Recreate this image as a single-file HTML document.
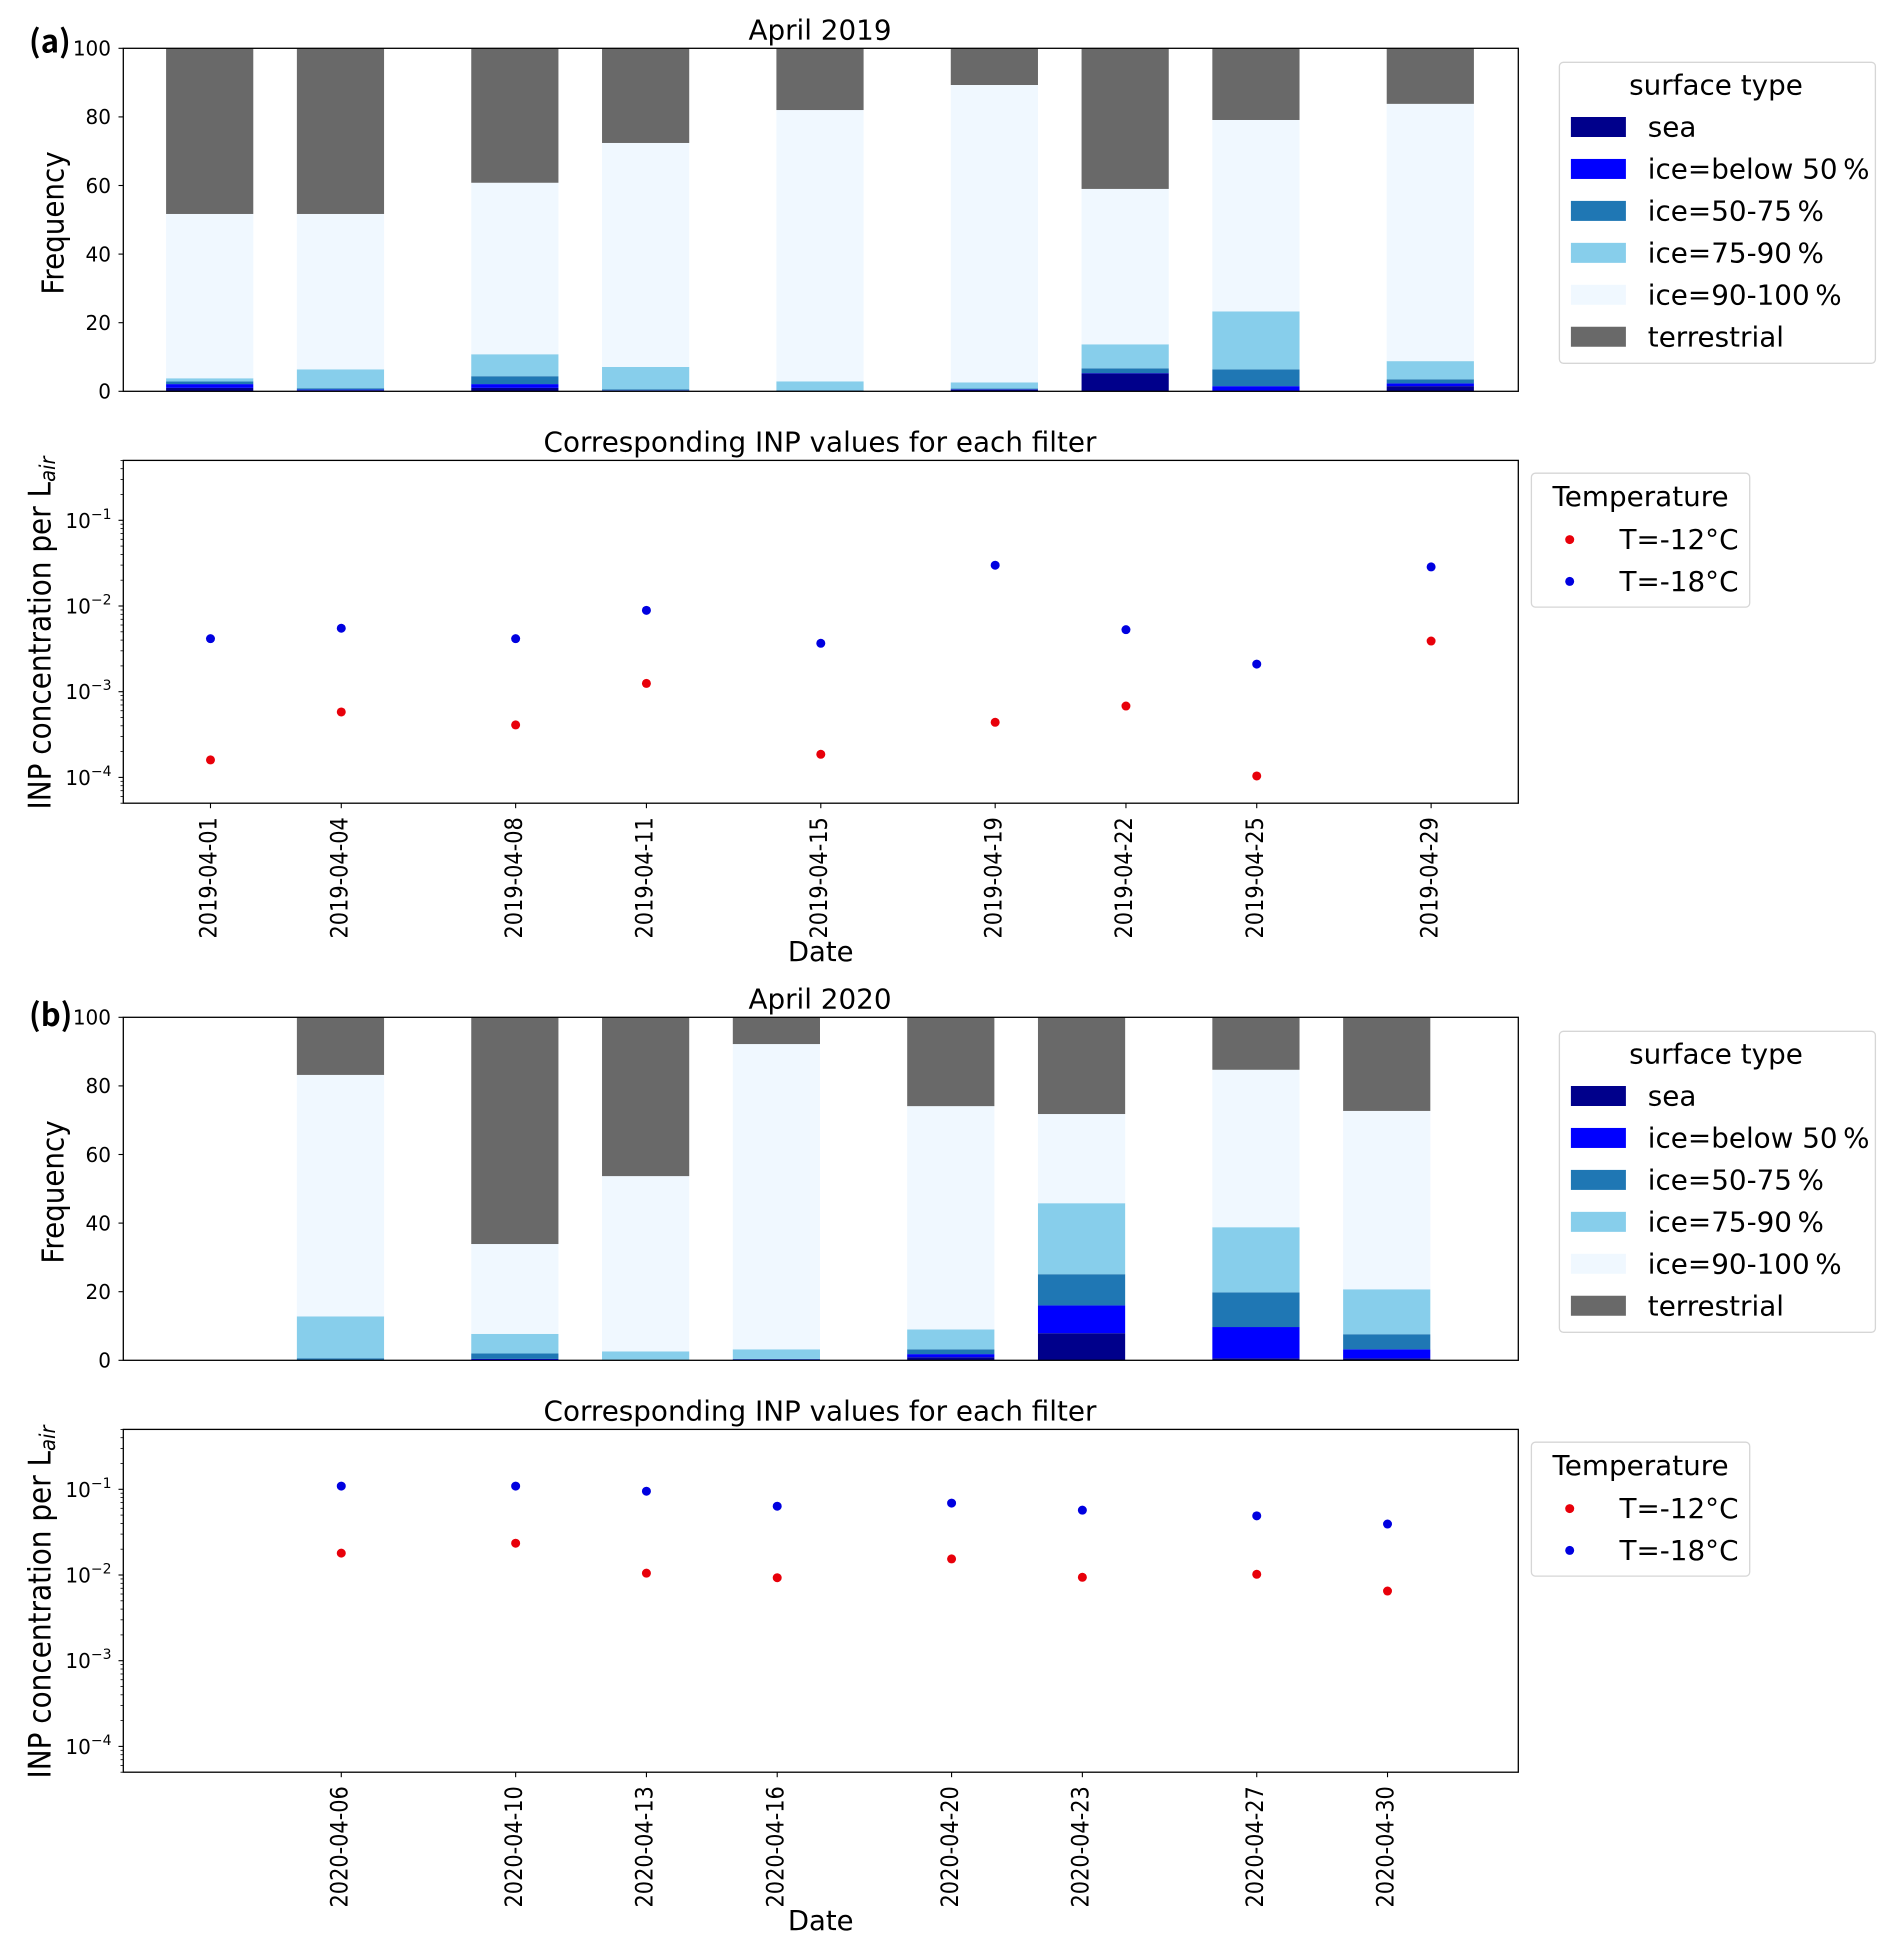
<!DOCTYPE html>
<html lang="en">
<head>
<meta charset="utf-8">
<title>Surface type frequency and INP concentration, April 2019 and April 2020</title>
<style>
html,body{margin:0;padding:0;background:#fff;}
svg{display:block;}
text{font-family:"DejaVu Sans",sans-serif;fill:#000;}
</style>
</head>
<body>
<svg id="chart" xmlns="http://www.w3.org/2000/svg" width="1896" height="1952" viewBox="0 0 1896 1952"></svg>
<script>
// ---- April 2019 data ----
const dates2019 = ["2019-04-01","2019-04-04","2019-04-08","2019-04-11","2019-04-15","2019-04-19","2019-04-22","2019-04-25","2019-04-29"];
const sea2019 = [1.0,0.3,1.0,0.2,0,0.5,5.2,0.1,1.5];
const iceBelow50_2019 = [1.1,0.2,1.1,0.1,0,0.1,0.1,1.4,0.8];
const ice50to75_2019 = [0.8,0.4,2.3,0.3,0.3,0.2,1.4,4.9,1.2];
const ice75to90_2019 = [0.9,5.5,6.4,6.5,2.6,1.8,7.0,16.9,5.3];
const ice90to100_2019 = [47.9,45.3,50.0,65.3,79.1,86.7,45.3,55.8,75.0];
const terrestrial2019 = [48.3,48.3,39.2,27.6,18.0,10.7,41.0,20.9,16.2];
const inpMinus12_2019 = [1.6e-4,5.8e-4,4.1e-4,1.25e-3,1.86e-4,4.4e-4,6.8e-4,1.04e-4,3.9e-3];
const inpMinus18_2019 = [4.16e-3,5.5e-3,4.16e-3,8.9e-3,3.67e-3,0.0299,5.3e-3,2.1e-3,0.0286];

// ---- April 2020 data ----
const dates2020 = ["2020-04-06","2020-04-10","2020-04-13","2020-04-16","2020-04-20","2020-04-23","2020-04-27","2020-04-30"];
const sea2020 = [0,0.2,0,0.1,0.9,7.9,0.6,0.6];
const iceBelow50_2020 = [0.1,0.2,0,0.2,0.9,8.1,9.1,2.6];
const ice50to75_2020 = [0.5,1.6,0.1,0.1,1.4,9.1,10.1,4.4];
const ice75to90_2020 = [12.2,5.7,2.5,2.8,5.8,20.7,19.0,13.1];
const ice90to100_2020 = [70.4,26.2,51.1,89.0,65.1,26.0,45.9,52.0];
const terrestrial2020 = [16.8,66.1,46.3,7.8,25.9,28.2,15.3,27.3];
const inpMinus12_2020 = [0.018,0.0235,0.0105,0.0093,0.0154,0.0094,0.0102,0.0065];
const inpMinus18_2020 = [0.109,0.109,0.095,0.0635,0.069,0.0571,0.049,0.0393];

// ---- axis ticks and legend labels ----
const frequencyTicks = [0,20,40,60,80,100];
const logTickExponents = [-4,-3,-2,-1];
const minorMultipliers = [2,3,4,5,6,7,8,9];
const surfaceLabels = ["sea","ice=below 50\u2009%","ice=50-75\u2009%","ice=75-90\u2009%","ice=90-100\u2009%","terrestrial"];
const surfaceColors = ["#00008b","#0000ff","#1f77b4","#87ceeb","#f0f8ff","#696969"];
const temperatureLabels = ["T=-12\u00b0C","T=-18\u00b0C"];
const temperatureColors = ["#e8000a","#0000e0"];

// ---- layout (not data) ----
const NS = "http://www.w3.org/2000/svg";
const root = document.getElementById("chart");
const AX_L = 123.3, AX_R = 1518.3;
const BAR_T = 48.3, BAR_B = 391.3;
const LOG_T = 460.4, LOG_B = 803.2;
const LOG_MIN = 5e-5, LOG_MAX = 0.5;
const BAR_WIDTH_DAYS = 2;
const BAR_PIXEL_SHIFT = -0.8;

function el(tag, attrs, parent) {
  const e = document.createElementNS(NS, tag);
  for (const k in attrs) e.setAttribute(k, attrs[k]);
  (parent || root).appendChild(e);
  return e;
}
function dayOf(s) { return parseInt(s.slice(8), 10); }

function drawFigure(opts) {
  const dy = opts.dy;
  const fig = el("g", {transform: "translate(0," + dy + ")"});
  
  

  const xScale = d => AX_L + (d - opts.xMin) / (opts.xMax - opts.xMin) * (AX_R - AX_L);
  const yFreq = v => BAR_B - v / 100 * (BAR_B - BAR_T);
  const yLog = v => LOG_B - (Math.log10(v) - Math.log10(LOG_MIN)) / (Math.log10(LOG_MAX) - Math.log10(LOG_MIN)) * (LOG_B - LOG_T);

  // stacked bars
  const barGroup = el("g", {}, fig);
  
  
  opts.dates.forEach((date, i) => {
    let base = 0;
    opts.series.forEach((values, s) => {
      const top = base + values[i];
      if (values[i] > 0) {
        const r = el("rect", {
          x: xScale(dayOf(date) - BAR_WIDTH_DAYS / 2) + BAR_PIXEL_SHIFT,
          y: yFreq(top),
          width: xScale(dayOf(date) + BAR_WIDTH_DAYS / 2) - xScale(dayOf(date) - BAR_WIDTH_DAYS / 2),
          height: yFreq(base) - yFreq(top),
          fill: surfaceColors[s]
        }, barGroup);
        
        
      }
      base = top;
    });
  });

  // frequency axes frame
  const frame1 = el("rect", {x: AX_L, y: BAR_T, width: AX_R - AX_L, height: BAR_B - BAR_T, fill: "none", stroke: "#000", "stroke-width": 1.3}, fig);
  
  

  frequencyTicks.forEach(v => {
    const t = el("line", {x1: AX_L - 4.8, x2: AX_L, y1: yFreq(v), y2: yFreq(v), stroke: "#000", "stroke-width": 1.1}, fig);
    
    
    const l = el("text", {x: 111, y: yFreq(v) + 7.3, "text-anchor": "end", "font-size": 20}, fig);
    l.textContent = v;
    
    
  });

  const title = el("text", {x: 820, y: 39.3, "text-anchor": "middle", "font-size": 27.8}, fig);
  title.textContent = opts.title;
  
  

  const panelTag = el("text", {x: 29, y: opts.tagY - dy, "font-size": 31, "font-weight": 700, style: 'font-family:"Noto Sans CJK JP",sans-serif'}, fig);
  panelTag.textContent = opts.tag;
  
  

  const freqLabel = el("text", {transform: "translate(63.7,223) rotate(-90) scale(0.925,1)", "text-anchor": "middle", "font-size": 30}, fig);
  freqLabel.textContent = "Frequency";
  
  

  // surface type legend
  const leg1 = el("g", {}, fig);
  
  
  el("rect", {x: 1559.4, y: 62.3, width: 316, height: 301, rx: 4, fill: "#fff", stroke: "#d6d6d6", "stroke-width": 1.3}, leg1);
  const leg1Title = el("text", {x: 1716, y: 94.5, "text-anchor": "middle", "font-size": 27.8}, leg1);
  leg1Title.textContent = "surface type";
  
  
  surfaceLabels.forEach((label, i) => {
    const cy = 127 + i * 41.95;
    const sw = el("rect", {x: 1570.9, y: cy - 10, width: 55, height: 20, fill: surfaceColors[i]}, leg1);
    
    
    const tx = el("text", {x: 1647.8, y: cy + 9.5, "font-size": 27.8}, leg1);
    tx.textContent = label;
    
    
  });

  // INP axes
  const frame2 = el("rect", {x: AX_L, y: LOG_T, width: AX_R - AX_L, height: LOG_B - LOG_T, fill: "none", stroke: "#000", "stroke-width": 1.3}, fig);
  
  

  logTickExponents.forEach(e => {
    const v = Math.pow(10, e);
    const t = el("line", {x1: AX_L - 4.8, x2: AX_L, y1: yLog(v), y2: yLog(v), stroke: "#000", "stroke-width": 1.1}, fig);
    
    
    const l = el("text", {x: 111.5, y: yLog(v) + 7.5, "text-anchor": "end", "font-size": 20}, fig);
    
    
    const base = el("tspan", {}, l);
    base.textContent = "10";
    const sup = el("tspan", {dy: -9, "font-size": 14}, l);
    sup.textContent = "\u2212" + Math.abs(e);
  });
  [-5,-4,-3,-2,-1].forEach(e => {
    minorMultipliers.forEach(m => {
      const v = m * Math.pow(10, e);
      if (v < LOG_MIN || v > LOG_MAX) return;
      const t = el("line", {x1: AX_L - 2.8, x2: AX_L, y1: yLog(v), y2: yLog(v), stroke: "#000", "stroke-width": 0.8}, fig);
      
      
    });
  });

  opts.dates.forEach((date, i) => {
    const cx = xScale(dayOf(date));
    const t = el("line", {x1: cx, x2: cx, y1: LOG_B, y2: LOG_B + 5, stroke: "#000", "stroke-width": 1.1}, fig);
    
    
    const l = el("text", {transform: "translate(" + (cx + 6.2) + "," + (LOG_B + 14) + ") rotate(-90) scale(0.87,1)", "text-anchor": "end", "font-size": 24}, fig);
    l.textContent = date;
    
    

    const red = el("circle", {cx: cx, cy: yLog(opts.inp12[i]), r: 4.5, fill: temperatureColors[0]}, fig);
    
    
    const blue = el("circle", {cx: cx, cy: yLog(opts.inp18[i]), r: 4.5, fill: temperatureColors[1]}, fig);
    
    
  });

  const subtitle = el("text", {x: 820, y: 451.4, "text-anchor": "middle", "font-size": 27.8}, fig);
  subtitle.textContent = "Corresponding INP values for each filter";
  
  

  const inpLabel = el("text", {transform: "translate(50.4,809.5) rotate(-90) scale(0.9,1)", "font-size": 31}, fig);
  
  
  const inpMain = el("tspan", {}, inpLabel);
  inpMain.textContent = "INP concentration per L";
  const inpSub = el("tspan", {dy: 4.5, "font-size": 21.7, "font-style": "italic"}, inpLabel);
  inpSub.textContent = "air";

  const dateLabel = el("text", {x: 820.7, y: 961, "text-anchor": "middle", "font-size": 27.5}, fig);
  dateLabel.textContent = "Date";
  
  

  // temperature legend
  const leg2 = el("g", {}, fig);
  
  
  el("rect", {x: 1531.4, y: 473.2, width: 218.3, height: 133.9, rx: 4, fill: "#fff", stroke: "#d6d6d6", "stroke-width": 1.3}, leg2);
  const leg2Title = el("text", {x: 1640.6, y: 506, "text-anchor": "middle", "font-size": 27.8}, leg2);
  leg2Title.textContent = "Temperature";
  
  
  temperatureLabels.forEach((label, i) => {
    const cy = 539.6 + i * 41.8;
    const m = el("circle", {cx: 1569.7, cy: cy, r: 4.5, fill: temperatureColors[i]}, leg2);
    
    
    const tx = el("text", {x: 1619.5, y: cy + 9.5, "font-size": 27.8}, leg2);
    tx.textContent = label;
    
    
  });
}

drawFigure({
  key: "april-2019", dy: 0, title: "April 2019", tag: "(a)", tagY: 52.7,
  xMin: -1, xMax: 31, dates: dates2019,
  series: [sea2019, iceBelow50_2019, ice50to75_2019, ice75to90_2019, ice90to100_2019, terrestrial2019],
  inp12: inpMinus12_2019, inp18: inpMinus18_2019
});
drawFigure({
  key: "april-2020", dy: 969, title: "April 2020", tag: "(b)", tagY: 1026,
  xMin: 1, xMax: 33, dates: dates2020,
  series: [sea2020, iceBelow50_2020, ice50to75_2020, ice75to90_2020, ice90to100_2020, terrestrial2020],
  inp12: inpMinus12_2020, inp18: inpMinus18_2020
});
</script>
</body>
</html>
